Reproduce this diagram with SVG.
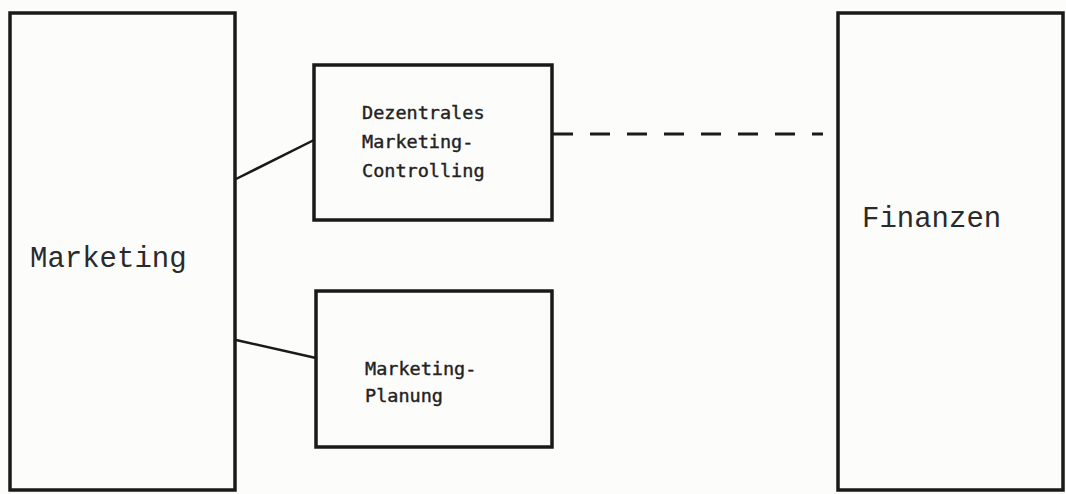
<svg xmlns="http://www.w3.org/2000/svg" width="1066" height="494" viewBox="0 0 1066 494">
  <style>
    .box { fill: none; stroke: #1a1a1a; stroke-width: 3.5; }
    .link { stroke: #1a1a1a; stroke-width: 2.5; fill: none; }
    .dash { stroke: #1a1a1a; stroke-width: 3; stroke-dasharray: 20 17; fill: none; }
    .big { font-family: "Liberation Mono", "Courier New", monospace; font-size: 29px; fill: #2a2a2a; }
    .small { font-family: "DejaVu Sans Mono", monospace; font-size: 18.5px; fill: #222; stroke: #222; stroke-width: 0.4; }
  </style>
  <rect width="1066" height="494" fill="#fcfcfb"/>

  <g id="connectors">
    <line class="link" x1="236" y1="179" x2="314" y2="140"/>
    <line class="link" x1="236" y1="340" x2="316" y2="358"/>
    <line class="dash" x1="553" y1="134" x2="823" y2="134"/>
  </g>

  <g id="marketing">
    <rect class="box" x="10" y="13" width="225" height="477"/>
    <text class="big" x="30" y="267">Marketing</text>
  </g>

  <g id="controlling">
    <rect class="box" x="314" y="65" width="238" height="155"/>
    <text class="small" x="362" y="119">Dezentrales</text>
    <text class="small" x="362" y="148">Marketing-</text>
    <text class="small" x="362" y="177">Controlling</text>
  </g>

  <g id="planung">
    <rect class="box" x="316" y="291" width="236" height="156"/>
    <text class="small" x="365" y="375">Marketing-</text>
    <text class="small" x="365" y="402">Planung</text>
  </g>

  <g id="finanzen">
    <rect class="box" x="838" y="13" width="225" height="477"/>
    <text class="big" x="862" y="227">Finanzen</text>
  </g>
</svg>
